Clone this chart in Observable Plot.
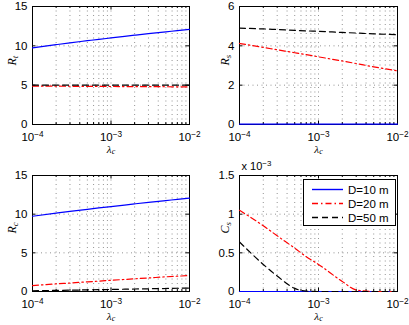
<!DOCTYPE html>
<html><head><meta charset="utf-8">
<script src="https://cdn.jsdelivr.net/npm/d3@7"></script>
<script src="https://cdn.jsdelivr.net/npm/@observablehq/plot@0.6"></script>
<style>
body{margin:0;background:#fff;}
#fig{position:relative;width:409px;height:325px;overflow:hidden;font-family:"Liberation Sans",Arial,sans-serif;}
.panel{position:absolute;}
</style></head><body><div id="fig"></div>
<script>
// ---- data ----
const lambda = [1e-4, 2e-4, 3e-4, 5e-4, 7e-4, 1e-3, 2e-3, 3e-3, 5e-3, 7e-3, 1e-2];
const seriesNames = ["D=10 m", "D=20 m", "D=50 m"];
const seriesColors = ["#0000ff", "#ff0000", "#000000"];
const seriesDash = [null, "6,3,1.5,3", "6,4"];

const Rt_D10 = [9.75, 10.15, 10.38, 10.65, 10.83, 11.0, 11.35, 11.55, 11.78, 11.93, 12.1];
const Rt_D20 = [4.88, 4.87, 4.86, 4.85, 4.84, 4.83, 4.82, 4.81, 4.80, 4.79, 4.78];
const Rt_D50 = [5.0, 5.0, 5.0, 5.0, 5.0, 5.0, 5.0, 5.0, 5.0, 5.0, 5.0];

const Rs_D10 = [0.02, 0.02, 0.02, 0.02, 0.02, 0.02, 0.02, 0.02, 0.02, 0.02, 0.02];
const Rs_D20 = [4.12, 3.92, 3.80, 3.65, 3.55, 3.44, 3.23, 3.10, 2.93, 2.83, 2.73];
const Rs_D50 = [4.90, 4.86, 4.83, 4.79, 4.76, 4.74, 4.68, 4.65, 4.61, 4.59, 4.56];

const Rc_D10 = [9.73, 10.13, 10.36, 10.63, 10.81, 10.98, 11.33, 11.53, 11.76, 11.91, 12.08];
const Rc_D20 = [0.77, 0.98, 1.10, 1.25, 1.34, 1.45, 1.64, 1.75, 1.90, 1.98, 2.06];
const Rc_D50 = [0.10, 0.14, 0.17, 0.21, 0.24, 0.26, 0.32, 0.35, 0.39, 0.42, 0.44];

const Cs_D10 = [0, 0, 0, 0, 0, 0, 0, 0, 0, 0, 0];
const Cs_D20 = [1.05, 0.85, 0.72, 0.56, 0.45, 0.35, 0.13, 0.02, 0, 0, 0];
const Cs_D50 = [0.64, 0.35, 0.20, 0.04, 0.004, 0, 0, 0, 0, 0, 0];

const xTicks = [1e-4, 1e-3, 1e-2];
const xMinor = [2e-4,3e-4,4e-4,5e-4,6e-4,7e-4,8e-4,9e-4,2e-3,3e-3,4e-3,5e-3,6e-3,7e-3,8e-3,9e-3];
const Rt_yTicks = [0, 5, 10, 15];
const Rs_yTicks = [0, 2, 4, 6];
const Rc_yTicks = [0, 5, 10, 15];
const Cs_yTicks = [0, 0.5, 1, 1.5];
const yLabels = ["R_t", "R_s", "R_c", "C_s"];
const xLabel = "\u03bb_c";
const CsExponent = "x 10^-3";

// ---- layout ----
const panels = [
  {left:0,   top:0,   width:205, height:155, mL:32, mR:16, mT:6,  mB:31, ticks:Rt_yTicks, label:yLabels[0], ldx:-20, series:[Rt_D10,Rt_D20,Rt_D50]},
  {left:205, top:0,   width:204, height:155, mL:34, mR:12, mT:6,  mB:31, ticks:Rs_yTicks, label:yLabels[1], ldx:-14, series:[Rs_D10,Rs_D20,Rs_D50]},
  {left:0,   top:155, width:205, height:170, mL:32, mR:16, mT:20, mB:34, ticks:Rc_yTicks, label:yLabels[2], ldx:-20, series:[Rc_D10,Rc_D20,Rc_D50]},
  {left:205, top:155, width:204, height:170, mL:34, mR:12, mT:20, mB:34, ticks:Cs_yTicks, label:yLabels[3], ldx:-14, series:[Cs_D10,Cs_D20,Cs_D50], exponent:CsExponent}
];

function richText(svg){
  d3.select(svg).selectAll("text").each(function(){
    const el = this;
    if (el.querySelector("tspan")) return;
    const t = el.textContent;
    let m = t.match(/^(.*)\^(.*)$/);
    if (m) {
      el.textContent = m[1];
      d3.select(el).append("tspan").attr("dy","-0.45em").attr("font-size","0.72em").text(m[2].replace("-", "\u2212"));
      return;
    }
    m = t.match(/^(.*)_(.*)$/);
    if (m) {
      el.textContent = m[1];
      d3.select(el).append("tspan").attr("dy","0.18em").attr("font-size","0.72em").text(m[2]);
    }
  });
}

const fig = document.getElementById("fig");
const serif = "Liberation Serif, Times New Roman, serif";
const gridStyle = {stroke:"#777", strokeWidth:0.8, strokeDasharray:"1,3.5"};

panels.forEach(p => {
  const yMax = p.ticks[p.ticks.length-1];
  const ph = p.height - p.mT - p.mB;
  const pw = p.width - p.mL - p.mR;
  const tMaj = 3.5, tMin = 2;
  const yGrid = p.ticks.slice(1, -1);
  const marks = [
    Plot.ruleX(xMinor.concat([1e-3]), gridStyle),
    Plot.ruleY(yGrid, gridStyle),
    Plot.ruleX(xTicks, {y1:0, y2:yMax*tMaj/ph, stroke:"#000"}),
    Plot.ruleX(xTicks, {y1:yMax, y2:yMax*(1-tMaj/ph), stroke:"#000"}),
    Plot.ruleX(xMinor, {y1:0, y2:yMax*tMin/ph, stroke:"#000"}),
    Plot.ruleX(xMinor, {y1:yMax, y2:yMax*(1-tMin/ph), stroke:"#000"}),
    Plot.ruleY(p.ticks, {x1:1e-4, x2:1e-4*Math.pow(10, 2*tMaj/pw), stroke:"#000"}),
    Plot.ruleY(p.ticks, {x1:1e-2, x2:1e-2/Math.pow(10, 2*tMaj/pw), stroke:"#000"}),
    Plot.frame({stroke:"#000", strokeWidth:1}),
    Plot.axisX({ticks:xTicks, tickSize:0, tickPadding:8, label:null, fontSize:11.5,
      tickFormat: d => "10^" + Math.round(Math.log10(d))}),
    Plot.axisY({ticks:p.ticks, tickSize:0, tickPadding:5, label:null, fontSize:11.5,
      tickFormat: d => String(d)}),
    Plot.text([p.label], {text:d=>d, frameAnchor:"left", dx:p.ldx, rotate:-90, fontFamily:serif, fontStyle:"italic", fontSize:12}),
    Plot.text([xLabel], {text:d=>d, frameAnchor:"bottom", dy:25, lineAnchor:"middle", fontFamily:serif, fontStyle:"italic", fontSize:11})
  ];
  if (p.exponent) {
    marks.push(Plot.text([p.exponent], {text:d=>d, frameAnchor:"top-left", textAnchor:"start", dx:2, dy:-6, lineAnchor:"bottom", fontSize:11}));
  }
  p.series.forEach((vals, i) => {
    const rows = vals.map((v, j) => ({x: lambda[j], y: v}));
    marks.push(Plot.line(rows, {x:"x", y:"y", stroke:seriesColors[i], strokeWidth:1.2,
      strokeDasharray: seriesDash[i] || undefined, curve:"monotone-x"}));
  });
  const svg = Plot.plot({
    width:p.width, height:p.height,
    marginLeft:p.mL, marginRight:p.mR, marginTop:p.mT, marginBottom:p.mB,
    x:{type:"log", domain:[1e-4, 1e-2], axis:null},
    y:{domain:[0, yMax], axis:null},
    style:{fontSize:"12px", fontFamily:"Liberation Sans, Arial, sans-serif", background:"transparent", overflow:"visible", color:"#000"},
    marks
  });
  richText(svg);
  const div = document.createElement("div");
  div.className = "panel";
  div.style.left = p.left + "px";
  div.style.top = p.top + "px";
  div.appendChild(svg);
  fig.appendChild(div);
});

// ---- legend (inside C_s panel, top-right) ----
const leg = d3.select(fig).append("svg")
  .attr("width", 95).attr("height", 49)
  .style("position","absolute").style("left","302px").style("top","178px");
leg.append("rect").attr("x",1.5).attr("y",1.5).attr("width",92).attr("height",46)
  .attr("fill","#fff").attr("stroke","#000").attr("stroke-width",1);
seriesNames.forEach((name, i) => {
  const yy = 11.5 + i*14;
  leg.append("line").attr("x1",10).attr("x2",41).attr("y1",yy).attr("y2",yy)
    .attr("stroke",seriesColors[i]).attr("stroke-width",1.4)
    .attr("stroke-dasharray", seriesDash[i]);
  leg.append("text").attr("x",46).attr("y",yy).attr("dy","0.35em")
    .attr("font-size",11.5).attr("font-family","Liberation Sans, Arial, sans-serif").text(name);
});
</script>
</body></html>
